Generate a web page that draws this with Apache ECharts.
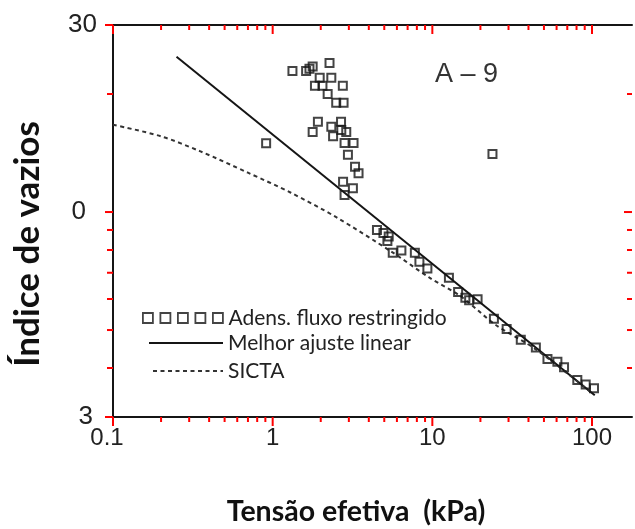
<!DOCTYPE html>
<html>
<head>
<meta charset="utf-8">
<script src="https://cdn.jsdelivr.net/npm/echarts@6/dist/echarts.min.js"></script>
<style>
  html, body { margin: 0; padding: 0; background: #fff; }
  #chart { width: 635px; height: 529px; }
</style>
</head>
<body>
<div id="chart"></div>
<script>
// ---- data ----
const stress = [0.91, 1.33, 1.62, 1.70, 1.78, 2.27, 1.97, 2.33, 1.84, 2.05, 2.75, 2.21, 2.50, 2.78,
  1.92, 1.78, 2.33, 2.68, 2.39, 2.69, 2.89, 2.82, 3.21, 2.96, 3.28, 3.45, 2.76, 3.18, 2.82,
  23.8, 4.50, 4.94, 5.33, 5.23, 5.65, 6.40, 7.77, 8.30, 9.31, 12.7, 14.5, 16.1, 17.0, 19.2,
  24.3, 29.2, 35.8, 44.5, 52.6, 60.7, 66.8, 80.9, 91.3, 102.9];
const voidRatio = [14.97, 22.9, 22.9, 23.2, 23.5, 24.0, 22.0, 22.0, 21.0, 21.0, 21.0, 20.0, 19.0, 19.0,
  17.0, 16.0, 16.5, 17.0, 15.6, 16.2, 16.0, 15.0, 15.0, 14.0, 13.05, 12.55, 11.95, 11.5, 11.05,
  14.06, 9.0, 8.84, 8.66, 8.43, 7.87, 7.98, 7.87, 7.47, 7.18, 6.80, 6.25, 6.04, 5.96, 5.99,
  5.34, 5.03, 4.72, 4.51, 4.22, 4.15, 4.02, 3.73, 3.63, 3.55];

const fitX = [0.25, 104];
const fitY = [24.9, 3.41];

const sictaX = [0.1, 0.2, 0.35, 0.7, 1.3, 2.5, 5.6, 9.6, 15, 25, 45, 100];
const sictaY = [16.7, 15.6, 14.3, 12.6, 11.2, 9.7, 7.9, 6.8, 6.1, 5.15, 4.45, 3.45];

const xTickValues = [0.1, 1, 10, 100];
const xTickLabels = ['0.1', '1', '10', '100'];
const xMinorTicks = [0.2, 0.3, 0.4, 0.5, 0.6, 0.7, 0.8, 0.9, 2, 3, 4, 5, 6, 7, 8, 9,
  20, 30, 40, 50, 60, 70, 80, 90];
const yTickValues = [3, 10, 30];
const yTickLabels = ['3', '0', '30'];
const yMinorTicks = [4, 5, 6, 7, 8, 9, 20];

const names = ['Adens. fluxo restringido', 'Melhor ajuste linear', 'SICTA'];
const panelLabel = 'A \u2013 9';
const xTitle = 'Tensão efetiva  (kPa)';
const yTitle = 'Índice de vazios';

// ---- chart ----
const X_MIN = 0.1, X_MAX = 178, Y_MIN = 3, Y_MAX = 30;
const INK = '#151515';
const TICK = 'red';

function labelIndex(values, v) {
  let best = -1, bd = Infinity;
  values.forEach((t, i) => {
    const d = Math.abs(Math.log10(v) - Math.log10(t));
    if (d < bd) { bd = d; best = i; }
  });
  return bd < 0.01 ? best : -1;
}

const squaresIcon = 'path://M0,0h10v10h-10z M17.5,0h10v10h-10z M35,0h10v10h-10z M52.5,0h10v10h-10z M70,0h10v10h-10z';
const legendText = { fontFamily: 'Lato', fontSize: 21, color: '#222', lineHeight: 22 };
const tickFont = { fontFamily: 'Liberation Sans', color: '#222' };

const chart = echarts.init(document.getElementById('chart'), null, { renderer: 'canvas' });
chart.setOption({
  animation: false,
  backgroundColor: '#fff',
  grid: { left: 113, right: 1, top: 25, bottom: 112, containLabel: false },
  title: {
    text: panelLabel, left: 430, top: 56,
    textStyle: { fontFamily: 'Liberation Sans', fontWeight: 'normal', fontSize: 27, color: '#333' }
  },
  legend: [
    {
      data: [{ name: names[0], icon: squaresIcon,
        itemStyle: { color: 'transparent', borderColor: INK, borderWidth: 1.8 } }],
      left: 142, top: 307, padding: 0, itemWidth: 81, itemHeight: 10, textStyle: legendText
    },
    {
      data: [{ name: names[1], itemStyle: { opacity: 0 } }],
      left: 148, top: 332, padding: 0, itemWidth: 74, itemHeight: 10, textStyle: legendText
    },
    {
      data: [{ name: names[2], itemStyle: { opacity: 0 } }],
      left: 152, top: 360, padding: 0, itemWidth: 70, itemHeight: 10, textStyle: legendText
    }
  ],
  xAxis: [
    {
      type: 'log', min: X_MIN, max: X_MAX, position: 'bottom',
      axisLine: { show: true, lineStyle: { color: INK, width: 2 } },
      axisTick: { show: false }, splitLine: { show: false }, minorTick: { show: false },
      axisLabel: {
        margin: 9, fontSize: 24, ...tickFont,
        formatter: v => {
          const i = labelIndex(xTickValues, v);
          if (i < 0) return '';
          return i === 0 ? '{l|' + xTickLabels[i] + '}' : xTickLabels[i];
        },
        rich: { l: { fontSize: 24, ...tickFont, padding: [0, 12, 0, 0] } }
      }
    },
    {
      type: 'log', min: X_MIN, max: X_MAX, position: 'top',
      axisLine: { show: true, lineStyle: { color: INK, width: 2 } },
      axisTick: { show: false }, axisLabel: { show: false }, splitLine: { show: false }
    }
  ],
  yAxis: [
    {
      type: 'log', min: Y_MIN, max: Y_MAX, position: 'left',
      axisLine: { show: true, lineStyle: { color: INK, width: 2 } },
      axisTick: { show: false }, splitLine: { show: false }, minorTick: { show: false },
      axisLabel: {
        margin: 16, fontSize: 26, ...tickFont,
        formatter: v => {
          const i = labelIndex(yTickValues, v);
          if (i < 0) return '';
          if (i === 1) return '{a|' + yTickLabels[i] + '}';
          if (i === 0) return '{b|' + yTickLabels[i] + '}';
          return yTickLabels[i];
        },
        rich: {
          a: { fontSize: 26, ...tickFont, padding: [0, 11, 0, 0] },
          b: { fontSize: 26, ...tickFont, padding: [0, 4, 0, 0] }
        }
      }
    }
  ],
  series: [
    {
      name: names[0], type: 'scatter', z: 4,
      symbol: 'rect', symbolSize: 8,
      itemStyle: { color: 'transparent', borderColor: INK, borderWidth: 2 },
      data: stress.map((x, i) => [x, voidRatio[i]])
    },
    {
      name: names[1], type: 'line', z: 3, symbol: 'none', showSymbol: false,
      itemStyle: { color: INK },
      lineStyle: { color: INK, width: 2 },
      data: fitX.map((x, i) => [x, fitY[i]])
    },
    {
      name: names[2], type: 'line', z: 3, symbol: 'none', showSymbol: false, smooth: 0.3,
      itemStyle: { color: '#333' },
      lineStyle: { color: '#333', width: 2, type: [4, 3.5] },
      data: sictaX.map((x, i) => [x, sictaY[i]])
    }
  ]
});

// ---- tick marks, positioned through the chart's own axis scales ----
const ticks = [];
function addTicks(xs, ys, seg) {
  xs.forEach((x, i) => {
    const p = chart.convertToPixel({ gridIndex: 0 }, [x, ys[i]]);
    if (!p || isNaN(p[0]) || isNaN(p[1])) return;
    ticks.push({
      type: 'line', silent: true, z: 50,
      shape: { x1: p[0] + seg[0], y1: p[1] + seg[1], x2: p[0] + seg[2], y2: p[1] + seg[3] },
      style: { stroke: TICK, lineWidth: 2 }
    });
  });
}
const rep = (v, n) => Array(n).fill(v);
addTicks(xMinorTicks, rep(Y_MIN, xMinorTicks.length), [0, 0, 0, 5]);      // bottom, outward
addTicks(xTickValues, rep(Y_MIN, xTickValues.length), [0, 0, 0, 9]);
addTicks(xMinorTicks, rep(Y_MAX, xMinorTicks.length), [0, 0, 0, 5]);      // top, inward
addTicks(xTickValues, rep(Y_MAX, xTickValues.length), [0, 0, 0, 9]);
addTicks(rep(X_MIN, yMinorTicks.length), yMinorTicks, [0, 0, -6, 0]);     // left, outward
addTicks(rep(X_MIN, yTickValues.length), yTickValues, [0, 0, -8, 0]);
addTicks(rep(X_MAX, yMinorTicks.length), yMinorTicks, [0, 0, -5, 0]);     // right, inward
addTicks([X_MAX], [yTickValues[1]], [0, 0, -8, 0]);

const titles = [
  {
    type: 'text', x: 28, y: 244, rotation: Math.PI / 2, z: 60,
    style: { text: yTitle, fontFamily: 'Lato', fontWeight: 'bold', fontSize: 35, fill: '#111',
      align: 'center', verticalAlign: 'middle' }
  },
  {
    type: 'text', x: 356, y: 512, z: 60,
    style: { text: xTitle, fontFamily: 'Lato', fontWeight: 'bold', fontSize: 28.5, fill: '#111',
      align: 'center', verticalAlign: 'middle' }
  }
];
chart.setOption({ graphic: ticks.concat(titles) });
</script>
</body>
</html>
